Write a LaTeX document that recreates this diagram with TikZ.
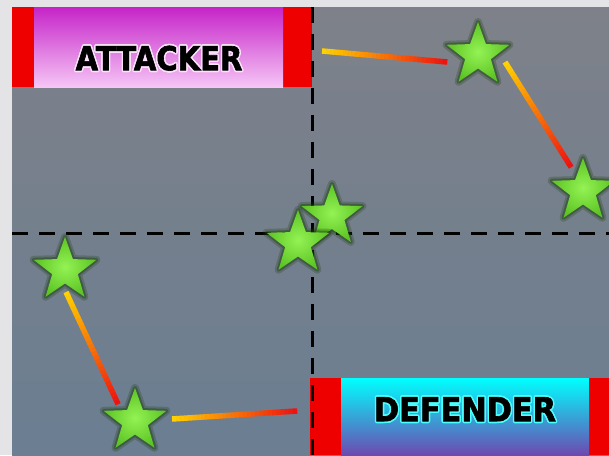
\documentclass[tikz,border=0pt]{standalone}
\usepackage{fontspec}
\newfontfamily\labelfont{DejaVu Sans}[BoldFeatures={FakeBold=2}]
\usepackage{contour}
\contourlength{1.6pt}
\contournumber{16}
\usetikzlibrary{shapes.geometric,calc}
\definecolor{bgedge}{HTML}{E4E4E7}
\definecolor{slate}{HTML}{7E8189}
\definecolor{slateblue}{HTML}{6B7E92}
\definecolor{boxred}{HTML}{EE0000}
\definecolor{magtop}{HTML}{C624C8}
\definecolor{magbot}{HTML}{F6C6F6}
\definecolor{cyantop}{HTML}{00FFFF}
\definecolor{cyanmid}{HTML}{3A9ED0}
\definecolor{purplebot}{HTML}{6E48B0}
\definecolor{stargreen}{HTML}{5CC424}
\definecolor{starlight}{HTML}{94F254}
\definecolor{glowgreen}{HTML}{1A3E0C}
\definecolor{linegold}{HTML}{FFD400}
\definecolor{linered}{HTML}{EE1010}
\newcommand\heatline[2]{%
  \foreach \i in {0,...,29}{%
    \pgfmathsetmacro\p{(\i+0.5)/30*100}%
    \draw[line width=5.5pt, color=linered!\p!linegold]
      ($(#1)!{\i/30}!(#2)$) -- ($(#1)!{(\i+1.08)/30}!(#2)$);
  }%
}
\begin{document}
\begin{tikzpicture}[x=1pt,y=-1pt,
  starnode/.style={star, star points=5, star point ratio=2.45, minimum size=66pt,
    inner sep=0pt, shading=radial, inner color=starlight, outer color=stargreen,
    preaction={draw=glowgreen, line width=8pt, opacity=0.25, line join=round},
    preaction={draw=glowgreen, line width=4pt, opacity=0.4, line join=round}},
  redbar/.style={fill=boxred, inner sep=0pt, anchor=north west},
  bannerfill/.style={inner sep=0pt, anchor=north west},
  bannertext/.style={font=\labelfont\bfseries\fontsize{33}{36}\selectfont, text=black, inner sep=0pt},
  divider/.style={line width=3pt, black, dash pattern=on 16pt off 11pt}]
\useasboundingbox (0,0) rectangle (609,455);
\clip (0,0) rectangle (609,455);
\fill[bgedge] (0,0) rectangle (609,455);
\shade[top color=slate, bottom color=slateblue] (12,7) rectangle (609,455);

% attacker banner
\node[redbar, minimum width=300pt, minimum height=80pt] (attred) at (12,7) {};
\node[bannerfill, minimum width=249pt, minimum height=80pt, top color=magtop, bottom color=magbot] (attfill) at (34,7) {};
\node[bannertext, xscale=0.88] (atttext) at (159,59) {\contour{magbot!50!white}{ATTACKER}};

% defender banner
\node[redbar, minimum width=299pt, minimum height=77pt] (defred) at (310,378) {};
\node[bannerfill, minimum width=248pt, minimum height=77pt, top color=cyantop, middle color=cyanmid, bottom color=purplebot] (deffill) at (341,378) {};
\node[bannertext, xscale=0.92] (deftext) at (465,410) {\contour{cyantop!70!white}{DEFENDER}};

% dividers
\coordinate (vtop) at (312,7);
\coordinate (vbot) at (312,455);
\coordinate (hleft) at (12,233);
\coordinate (hright) at (609,233);
\draw[divider] (vtop) -- (vbot);
\draw[divider] (hleft) -- (hright);

% connectors
\coordinate (l1a) at (322,51);  \coordinate (l1b) at (447,62);
\coordinate (l2a) at (505,62);  \coordinate (l2b) at (571,167);
\coordinate (l3a) at (66,292);  \coordinate (l3b) at (118,404);
\coordinate (l4a) at (172,419); \coordinate (l4b) at (297,411);
\heatline{l1a}{l1b}
\heatline{l2a}{l2b}
\heatline{l3a}{l3b}
\heatline{l4a}{l4b}

% stars
\node[starnode] (sa) at (478,55) {};
\node[starnode] (sb) at (583,191) {};
\node[starnode, minimum size=64pt] (sc) at (332,216) {};
\node[starnode] (sd) at (298,243) {};
\node[starnode] (se) at (65,270) {};
\node[starnode] (sf) at (135,421) {};
\end{tikzpicture}
\end{document}
